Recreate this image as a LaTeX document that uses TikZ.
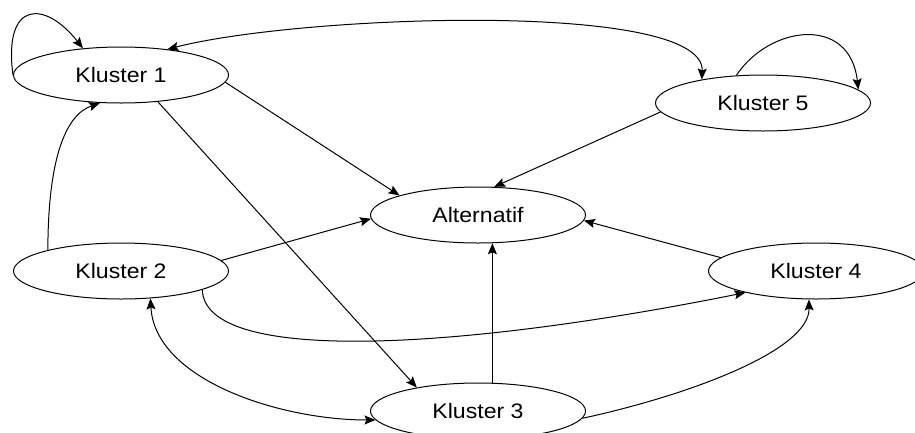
\documentclass[tikz,border=0pt]{standalone}
\usepackage{fontspec}
\newfontfamily\klfont[FakeStretch=1.1]{Liberation Sans}
\usetikzlibrary{shapes.geometric,arrows.meta}

\begin{document}
\begin{tikzpicture}[x=1pt,y=-1pt,
    kl/.style={draw,ellipse,line width=1pt,minimum width=215pt,minimum height=56pt,
      inner sep=0pt,font=\klfont\fontsize{21}{24}\selectfont},
    arr/.style={line width=1pt,-{Stealth[length=11pt,width=9pt,inset=2pt]}},
    biarr/.style={line width=1pt,
      {Stealth[length=11pt,width=9pt,inset=2pt]}-{Stealth[length=11pt,width=9pt,inset=2pt]}}]
  \useasboundingbox (0,0) rectangle (915,432);

  % Clusters
  \node[kl] (k1)  at (121,75)  {Kluster 1};
  \node[kl] (k5)  at (763,103) {Kluster 5};
  \node[kl] (alt) at (478,215) {Alternatif};
  \node[kl] (k2)  at (121,271) {Kluster 2};
  \node[kl] (k4)  at (816,271) {Kluster 4};
  \node[kl] (k3)  at (478,411) {Kluster 3};

  % Loops
  \draw[arr] (k1.west) .. controls (3,0) and (45,0) .. (k1.145);
  \draw[arr] (k5.134) .. controls (770,25) and (850,15) .. (k5.8);

  % Top arc
  \draw[biarr] (k1.29) .. controls (300,15) and (705,0) .. (k5.159);

  % Into Alternatif
  \draw[arr] (k1.-4) -- (alt.166);
  \draw[arr] (k5.185) -- (alt.60);
  \draw[arr] (k2.6) -- (alt.182);
  \draw[arr] (k4.172) -- (alt.-3);
  \draw[arr] (k3.63) -- (alt.-63);

  % Other edges
  \draw[arr] (k2.164) .. controls (48,160) and (65,115) .. (k1.233);
  \draw[arr] (k1.-36) -- (k3.159);
  \draw[arr] (k2.-13) .. controls (205,365) and (460,350) .. (k4.197);
  \draw[biarr] (k2.-43) .. controls (155,380) and (280,420) .. (k3.185);
  \draw[arr] (k3.-4) .. controls (690,395) and (810,350) .. (k4.256);
\end{tikzpicture}
\end{document}
